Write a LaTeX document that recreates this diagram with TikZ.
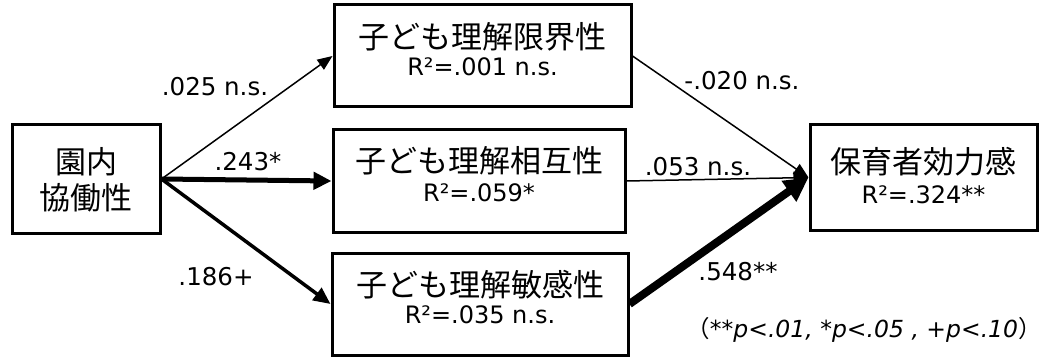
\documentclass[tikz,border=0pt]{standalone}
\usepackage{fontspec}
\setmainfont{DejaVu Sans}
\newfontfamily\jp{Noto Sans CJK JP}
\usetikzlibrary{arrows.meta}
\tikzset{
  box/.style={draw, line width=3pt, inner sep=0pt},
  jt/.style={font=\jp\fontsize{31}{36}\selectfont, inner sep=0pt},
  rt/.style={font=\fontsize{24}{28}\selectfont, inner sep=0pt},
  lab/.style={font=\fontsize{24.5}{28}\selectfont, inner sep=0pt},
  thinarr/.style={line width=1.5pt, -{Triangle[length=15pt,width=12pt]}},
  midarr/.style={line width=3.5pt, -{Triangle[length=17pt,width=15pt]}},
  thickarr/.style={line width=5pt, -{Triangle[length=18pt,width=17pt]}},
  heavyarr/.style={line width=8pt, -{Triangle[length=24pt,width=24pt]}},
}
\begin{document}
\begin{tikzpicture}[x=1pt,y=-1pt]
\useasboundingbox (0,0) rectangle (1040,358);
\node[box, minimum width=148pt, minimum height=108pt] (L) at (86,179) {};
\node[box, minimum width=297pt, minimum height=102pt] (T) at (482.5,56) {};
\node[box, minimum width=292pt, minimum height=102pt] (M) at (479,181) {};
\node[box, minimum width=296pt, minimum height=102pt] (B) at (480,304) {};
\node[box, minimum width=227pt, minimum height=105pt] (R) at (923.5,177.5) {};

\node[jt] (Lt1) at ([yshift=17pt]L.center) {園内};
\node[jt] (Lt2) at ([yshift=-19pt]L.center) {協働性};
\node[jt] (Tt) at ([yshift=19pt]T.center) {子ども理解限界性};
\node[rt] (Ts) at ([yshift=-11pt]T.center) {R²=.001 n.s.};
\node[jt] (Mt) at ([yshift=20pt]M.center) {子ども理解相互性};
\node[rt] (Ms) at ([yshift=-12pt]M.center) {R²=.059*};
\node[jt] (Bt) at ([yshift=19pt]B.center) {子ども理解敏感性};
\node[rt] (Bs) at ([yshift=-11pt]B.center) {R²=.035 n.s.};
\node[jt] (Rt) at ([yshift=16pt]R.center) {保育者効力感};
\node[rt] (Rs) at ([yshift=-17pt]R.center) {R²=.324**};

\draw[thinarr] (L.east) -- (T.west);
\draw[thickarr] (L.east) -- (M.west);
\draw[midarr] (L.east) -- (B.west);
\draw[thinarr] (T.east) -- (R.west);
\draw[thinarr] (M.east) -- (R.west);
\draw[heavyarr] (B.east) -- (R.west);

\node[lab] (l1) at (215,87) {.025 n.s.};
\node[lab] (l2) at (248,162) {.243*};
\node[lab] (l3) at (216,277) {.186+};
\node[lab] (l4) at (742,81) {-.020 n.s.};
\node[lab] (l5) at (698,167) {.053 n.s.};
\node[lab] (l6) at (738,272) {.548**};
\node[lab, font=\fontsize{23.5}{28}\selectfont] (note) at (864,330) {{\jp （}\textit{**p<.01, *p<.05 , +p<.10}{\jp ）}};
\end{tikzpicture}
\end{document}
